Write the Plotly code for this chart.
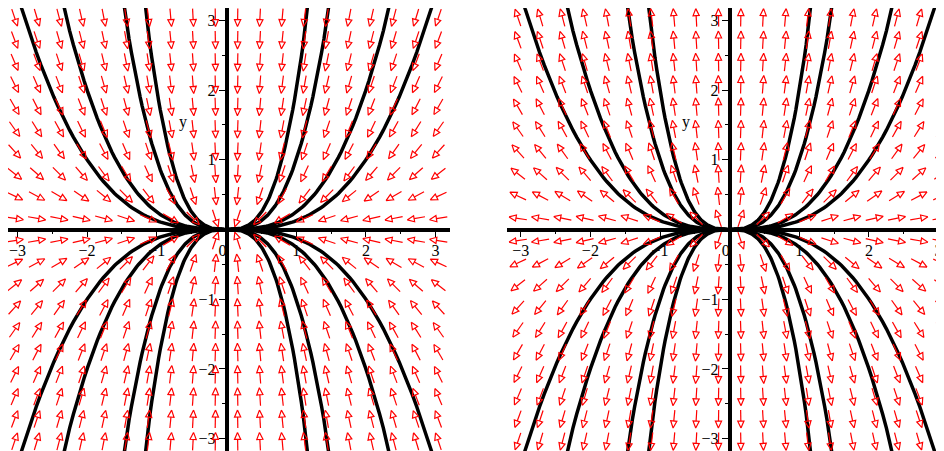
import numpy as np
import plotly.graph_objects as go

# direction field grid (cell centres, 20 x 20 over -3.2..3.2)
grid = [-3.04, -2.72, -2.4, -2.08, -1.76, -1.44, -1.12, -0.8, -0.48, -0.16,
        0.16, 0.48, 0.8, 1.12, 1.44, 1.76, 2.08, 2.4, 2.72, 3.04]

# system: x' = s*rate_x*x, y' = s*rate_y*y  (s=-1 left panel, s=+1 right panel)
rate_x = 1
rate_y = 3
panel_sign = [-1, 1]

# initial conditions of the solution curves (first quadrant, mirrored to the others)
init_x = [1, 1, 2, 2]
init_y = [1, 2, 1, 2]

x_ticks = [-3, -2, -1, 0, 1, 2, 3]
x_ticktext = ["\u22123", "\u22122", "\u22121", "0\u00a0\u00a0", "1", "2", "3"]
y_ticks = [-3, -2, -1, 1, 2, 3]
minor_ticks = [-2.5, -1.5, -0.5, 0.5, 1.5, 2.5]

PX = 69.7          # pixels per unit
W, H = 936, 443    # page body has an 8px margin
arrow_len = 18 / PX
head_len = 7 / PX
head_w = 3.1 / PX


def field_arrows(sign):
    xs, ys = [], []
    for gx in grid:
        for gy in grid:
            dx = sign * rate_x * gx
            dy = sign * rate_y * gy
            n = np.hypot(dx, dy)
            ux, uy = dx / n, dy / n
            tx, ty = gx - ux * arrow_len / 2, gy - uy * arrow_len / 2
            px, py = gx + ux * arrow_len / 2, gy + uy * arrow_len / 2
            bx, by = px - ux * head_len, py - uy * head_len
            xs += [tx, bx, None, px, bx - uy * head_w, bx + uy * head_w, px, None]
            ys += [ty, by, None, py, by + ux * head_w, by - ux * head_w, py, None]
    return xs, ys


fig = go.Figure()

for i, sign in enumerate(panel_sign):
    xa = "x" if i == 0 else "x2"
    ya = "y" if i == 0 else "y2"
    t = np.linspace(-3.5, 1.3, 200)
    for x0, y0 in zip(init_x, init_y):
        for sx in (1, -1):
            for sy in (1, -1):
                fig.add_trace(go.Scatter(
                    x=sx * x0 * np.exp(rate_x * t),
                    y=sy * y0 * np.exp(rate_y * t),
                    mode="lines", line=dict(color="black", width=3.5),
                    xaxis=xa, yaxis=ya, hoverinfo="skip", showlegend=False,
                ))
    ax, ay = field_arrows(sign)
    fig.add_trace(go.Scatter(
        x=ax, y=ay, mode="lines", line=dict(color="#ff0000", width=1.2),
        xaxis=xa, yaxis=ya, hoverinfo="skip", showlegend=False,
    ))
    fig.add_annotation(x=-0.62, y=1.54, xref=xa, yref=ya, text="y",
                       showarrow=False, font=dict(size=16, color="black"))

font = dict(family="Liberation Serif, Times New Roman, serif", size=16, color="black")
origin_y = 221.5   # px from top of figure
y_pos = 1 - origin_y / H

common_x = dict(
    anchor="free", position=y_pos, showline=True, linewidth=3.5, linecolor="black",
    showgrid=False, zeroline=False, ticks="outside", ticklen=6, tickwidth=1,
    tickcolor="black", tickmode="array", tickvals=x_ticks, ticktext=x_ticktext,
    tickfont=font, layer="below traces", tickangle=0,
    minor=dict(tickmode="array", tickvals=minor_ticks, ticks="outside",
               ticklen=3, tickcolor="black"),
)
common_y = dict(
    range=[-(H - origin_y) / PX, origin_y / PX], domain=[0, 1], anchor="free",
    showline=True, linewidth=3.5, linecolor="black", showgrid=False, zeroline=False,
    ticks="outside", ticklen=6, tickwidth=1, tickcolor="black",
    tickmode="array", tickvals=y_ticks, tickfont=font, layer="below traces",
    minor=dict(tickmode="array", tickvals=minor_ticks, ticks="outside",
               ticklen=3, tickcolor="black"),
)

left_origin = 218.5
right_origin = 721.5
right_left = 498.8
fig.update_layout(
    width=W, height=H,
    margin=dict(l=0, r=0, t=0, b=0),
    paper_bgcolor="white", plot_bgcolor="white",
    font=font,
    xaxis=dict(common_x, domain=[0, (left_origin + 3.2 * PX) / W],
               range=[-left_origin / PX, 3.2]),
    xaxis2=dict(common_x, domain=[right_left / W, 1],
                range=[-3.2, (W - right_origin) / PX]),
    yaxis=dict(common_y, position=left_origin / W),
    yaxis2=dict(common_y, position=right_origin / W),
)

fig.write_html("out.html")
